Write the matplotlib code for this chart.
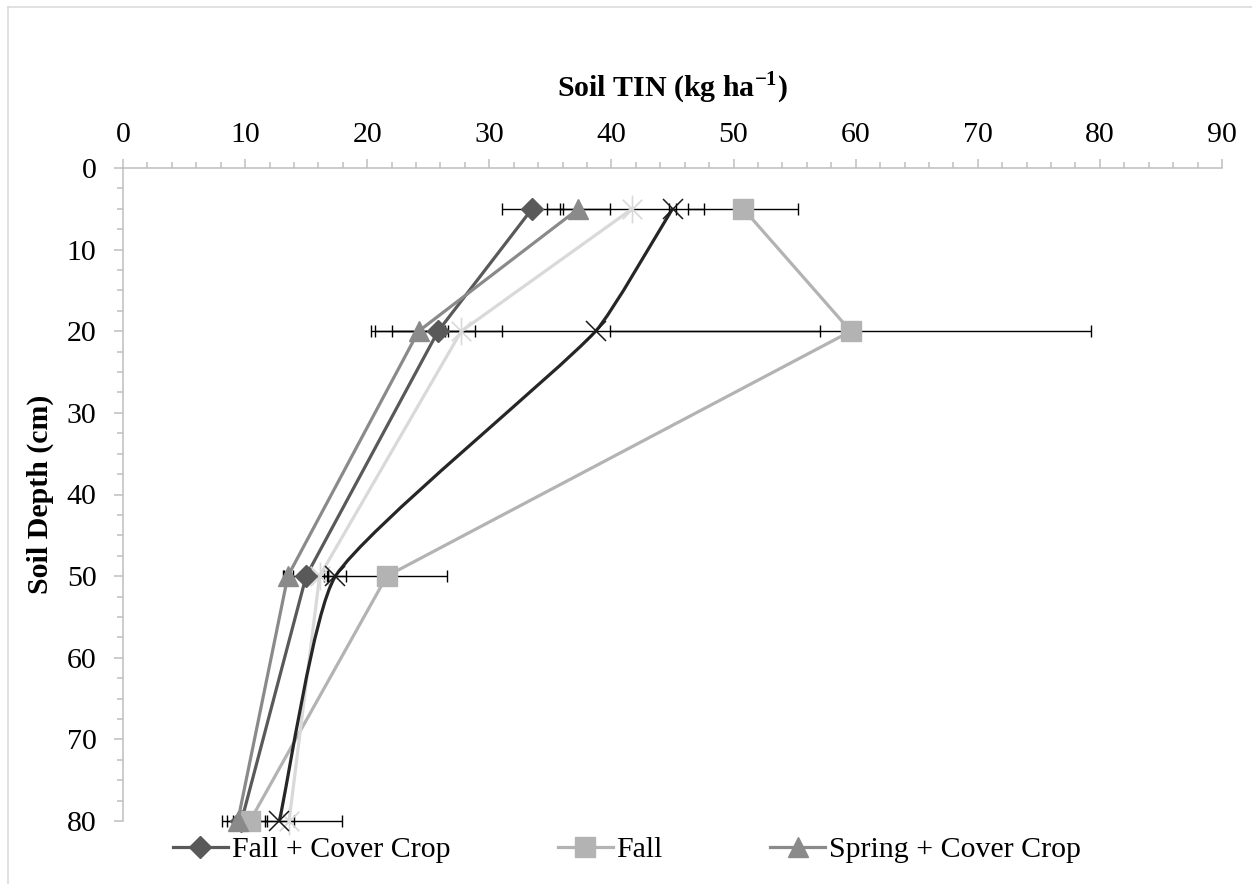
import numpy as np
import matplotlib
matplotlib.use("Agg")
import matplotlib.pyplot as plt
from matplotlib.path import Path
from matplotlib.patches import PathPatch
from matplotlib.lines import Line2D
from matplotlib.ticker import MultipleLocator

plt.rcParams['font.family'] = ['Liberation Serif', 'DejaVu Serif']
plt.rcParams['mathtext.fontset'] = 'custom'
plt.rcParams['mathtext.rm'] = 'Liberation Serif'
plt.rcParams['mathtext.bf'] = 'Liberation Serif:bold'

# ---- data ----
depth = [5, 20, 50, 80]

fall_cc = [33.5, 25.8, 15.0, 9.7]
fall_cc_err = [2.5, 5.2, 1.8, 1.2]

fall = [50.8, 59.6, 21.6, 10.4]
fall_err = [4.5, 19.7, 4.9, 1.4]

spring_cc = [37.3, 24.2, 13.5, 9.4]
spring_cc_err = [2.6, 2.2, 0.4, 1.3]

spring = [41.7, 27.7, 16.1, 13.6]
spring_err = [5.9, 1.1, 0.7, 4.3]

control = [45.0, 38.7, 17.4, 12.8]
control_err = [0.3, 18.4, 0.9, 1.2]

xlabel = r'Soil TIN (kg ha$^{\mathbf{-1}}$)'
ylabel = 'Soil Depth (cm)'

# ---- figure ----
W, H = 1252, 884
fig = plt.figure(figsize=(W / 100, H / 100), dpi=100)
ax = fig.add_axes([123 / W, 1 - 821 / H, (1222 - 123) / W, (821 - 168) / H])
ax.set_xlim(0, 90)
ax.set_ylim(80, 0)

FS = 21.5
axis_grey = '#bfbfbf'

# error bars
for xs, es in [(fall_cc, fall_cc_err), (fall, fall_err), (spring_cc, spring_cc_err),
               (spring, spring_err), (control, control_err)]:
    eb = ax.errorbar(xs, depth, xerr=es, fmt='none', ecolor='black',
                     elinewidth=1.0, capsize=4.5, capthick=1.0, zorder=2)
    for art in list(eb.lines[1]) + list(eb.lines[2]):
        art.set_clip_on(False)

# asterisk marker
s = 0.7071
ast = Path([(0, -1), (0, 1), (-s, -s), (s, s), (-s, s), (s, -s)],
           [Path.MOVETO, Path.LINETO, Path.MOVETO, Path.LINETO, Path.MOVETO, Path.LINETO])

lw = 2.3
h1, = ax.plot(fall_cc, depth, color='#595959', lw=lw, marker='D', ms=11,
              mfc='#595959', mec='#595959', label='Fall + Cover Crop', zorder=3, clip_on=False)
h2, = ax.plot(fall, depth, color='#b3b3b3', lw=lw, marker='s', ms=15,
              mfc='#b3b3b3', mec='#b3b3b3', label='Fall', zorder=3, clip_on=False)
h3, = ax.plot(spring_cc, depth, color='#8a8a8a', lw=lw, marker='^', ms=15,
              mfc='#8a8a8a', mec='#8a8a8a', label='Spring + Cover Crop', zorder=3, clip_on=False)
ax.plot(spring, depth, color='#d9d9d9', lw=lw, marker=ast, ms=20, mew=1.2,
        mec='#d9d9d9', label='Spring', zorder=3, clip_on=False)

# mildly smoothed line for control series (chord-length Bezier in display space)
P = ax.transData.transform(np.column_stack([control, depth]).astype(float))
n = len(P)
d = np.linalg.norm(np.diff(P, axis=0), axis=1)
m = np.zeros_like(P)
m[0] = (P[1] - P[0]) / d[0]
m[-1] = (P[-1] - P[-2]) / d[-1]
for i in range(1, n - 1):
    m[i] = (P[i + 1] - P[i - 1]) / (d[i - 1] + d[i])
k = 1.0 / 6.0
verts = [P[0]]
codes = [Path.MOVETO]
for i in range(n - 1):
    c1 = P[i] + m[i] * d[i] * k
    c2 = P[i + 1] - m[i + 1] * d[i] * k
    verts += [c1, c2, P[i + 1]]
    codes += [Path.CURVE4] * 3
verts = ax.transData.inverted().transform(np.array(verts))
ax.add_patch(PathPatch(Path(verts, codes), facecolor='none', edgecolor='#262626',
                       lw=lw, zorder=3, clip_on=False))
ax.plot(control, depth, linestyle='none', marker='x', ms=15, mew=1.1,
        mec='#1a1a1a', label='Control', zorder=3.1, clip_on=False)

# ---- axes styling ----
ax.xaxis.tick_top()
ax.xaxis.set_major_locator(MultipleLocator(10))
ax.xaxis.set_minor_locator(MultipleLocator(2))
ax.yaxis.set_major_locator(MultipleLocator(10))
ax.yaxis.set_minor_locator(MultipleLocator(2.5))
for side in ['bottom', 'right']:
    ax.spines[side].set_visible(False)
for side in ['top', 'left']:
    ax.spines[side].set_color(axis_grey)
    ax.spines[side].set_linewidth(1.1)
ax.tick_params(which='major', length=6.5, width=1.1, color=axis_grey, labelsize=FS)
ax.tick_params(which='minor', length=4.3, width=1.1, color=axis_grey)
ax.tick_params(axis='x', which='both', top=True, bottom=False, pad=8)
ax.tick_params(axis='y', which='both', left=True, right=False, pad=12.5)

ax.set_xlabel(xlabel, fontsize=FS, fontweight='bold')
ax.xaxis.set_label_position('top')
ax.xaxis.set_label_coords(0.5, 1 + (168 - 88) / 653)
ax.xaxis.label.set_verticalalignment('center')

ax.set_ylabel(ylabel, fontsize=FS, fontweight='bold')
ax.yaxis.set_label_coords((40 - 123) / 1099, 0.5)
ax.yaxis.label.set_verticalalignment('center')

# legend
fig.legend(handles=[h1, h2, h3], loc='center left',
           bbox_to_anchor=(172.7 / W, 1 - 850 / H), ncol=3, frameon=False,
           fontsize=FS, handlelength=1.85, handletextpad=0.12, columnspacing=3.6,
           borderpad=0, borderaxespad=0)

# chart-area border (light grey)
bc = '#d9d9d9'
fig.add_artist(Line2D([8 / W, 1.0], [1 - 7 / H, 1 - 7 / H], color=bc, lw=1.1,
                      transform=fig.transFigure))
fig.add_artist(Line2D([8 / W, 8 / W], [0.0, 1 - 7 / H], color=bc, lw=1.1,
                      transform=fig.transFigure))

fig.savefig('out.png', dpi=100)
